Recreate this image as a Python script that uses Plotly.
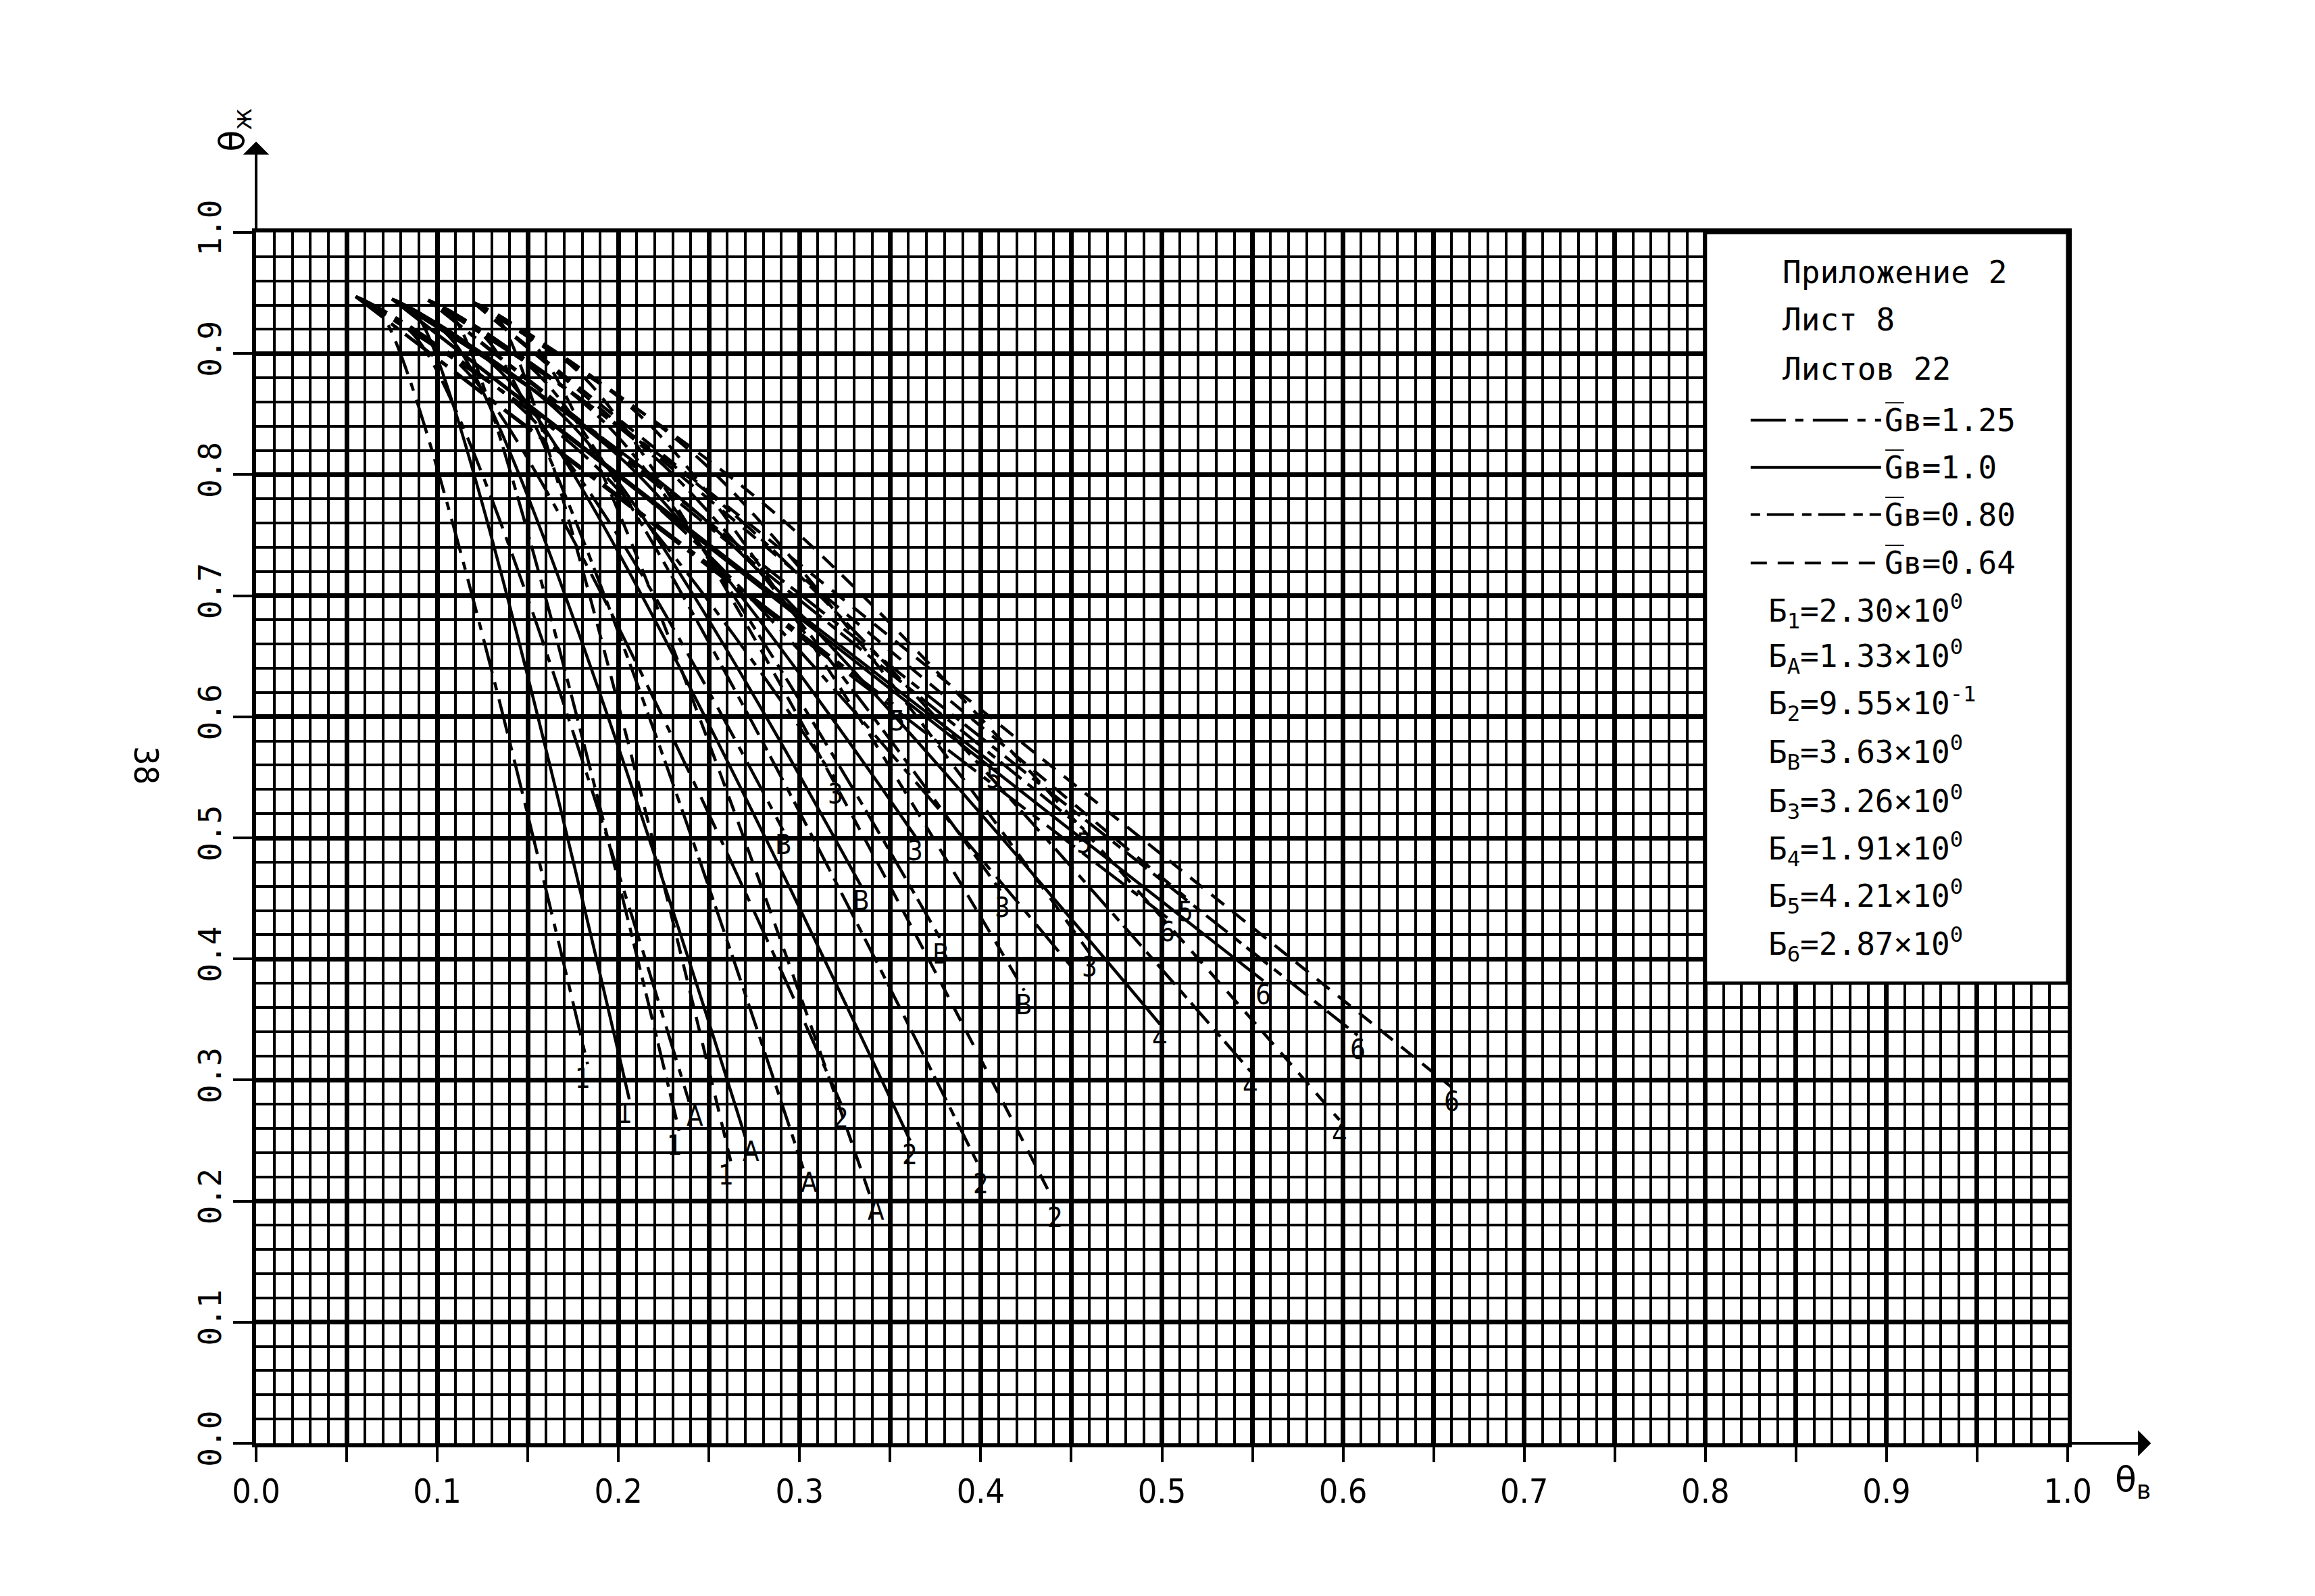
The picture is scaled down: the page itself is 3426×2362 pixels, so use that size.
import plotly.graph_objects as go

# ---------------- data ----------------
families = ["1", "A", "2", "B", "3", "4", "5", "6"]
gb_values = ["1.25", "1.0", "0.80", "0.64"]

# start points of the curves for each Gв
start_x = [0.055, 0.075, 0.095, 0.120]
start_y = [0.947, 0.945, 0.944, 0.942]

# bend points (None -> straight curve)
knee_x = {
    "1": [0.070, 0.090, 0.110, 0.135],
    "A": [0.090, 0.110, 0.130, 0.155],
    "2": [0.120, 0.140, 0.160, 0.185],
    "B": [0.155, 0.175, 0.195, 0.220],
    "3": [0.185, 0.205, 0.225, 0.250],
    "4": [0.225, 0.245, 0.265, 0.290],
    "5": None,
    "6": None,
}
knee_y = {
    "1": [0.931, 0.929, 0.928, 0.926],
    "A": [0.910, 0.908, 0.907, 0.905],
    "2": [0.879, 0.877, 0.876, 0.874],
    "B": [0.842, 0.840, 0.839, 0.837],
    "3": [0.8105, 0.8085, 0.8075, 0.8055],
    "4": [0.7685, 0.7665, 0.7655, 0.7635],
    "5": None,
    "6": None,
}
end_x = {
    "1": [0.183, 0.206, 0.2335, 0.262],
    "A": [0.239, 0.270, 0.302, 0.339],
    "2": [0.323, 0.361, 0.400, 0.441],
    "B": [0.291, 0.334, 0.378, 0.424],
    "3": [0.320, 0.364, 0.412, 0.460],
    "4": [0.452, 0.499, 0.549, 0.598],
    "5": [0.354, 0.407, 0.457, 0.513],
    "6": [0.503, 0.556, 0.608, 0.660],
}
end_y = {
    "1": [0.313, 0.284, 0.258, 0.233],
    "A": [0.282, 0.253, 0.227, 0.204],
    "2": [0.280, 0.250, 0.226, 0.198],
    "B": [0.506, 0.460, 0.416, 0.374],
    "3": [0.548, 0.501, 0.454, 0.405],
    "4": [0.390, 0.346, 0.307, 0.267],
    "5": [0.608, 0.561, 0.507, 0.451],
    "6": [0.434, 0.382, 0.337, 0.294],
}
end_labels = {
    "1": ["1", "1", "1", "1"],
    "A": ["A", "A", "A", "A"],
    "2": ["2", "2", "2", "2"],
    "B": ["B", "B", "B", "B"],
    "3": ["3", "3", "3", "3"],
    "4": [None, "4", "4", "4"],
    "5": ["5", "5", "5", "5"],
    "6": ["6", "6", "6", "6"],
}

b_subs = ["1", "А", "2", "В", "3", "4", "5", "6"]
b_mant = ["2.30", "1.33", "9.55", "3.63", "3.26", "1.91", "4.21", "2.87"]
b_exp = ["0", "0", "-1", "0", "0", "0", "0", "0"]

header_lines = ["Приложение 2", "Лист 8", "Листов 22"]

x_grid_vals = [i / 20 for i in range(21)]
x_tick_text = ["0.0", " ", "0.1", " ", "0.2", " ", "0.3", " ", "0.4", " ", "0.5", " ",
               "0.6", " ", "0.7", " ", "0.8", " ", "0.9", " ", "1.0"]
y_tick_vals = [i / 10 for i in range(11)]
y_tick_text = ["0.0", "0.1", "0.2", "0.3", "0.4", "0.5", "0.6", "0.7", "0.8", "0.9", "1.0"]

# ---------------- styles ----------------
dash_styles = ["52px,14px,12px,14px", "solid", "14px,10px,40px,12px", "24px,16px"]
label_xshift = {"1": -7, "A": 9, "2": 0, "B": 0, "3": 0, "4": 0, "5": 0, "6": 0}
BLACK = "black"
MONO = "DejaVu Sans Mono"

fig = go.Figure()

for fam in families:
    for g in range(4):
        xs = [start_x[g]]
        ys = [start_y[g]]
        if knee_x[fam] is not None:
            xs.append(knee_x[fam][g])
            ys.append(knee_y[fam][g])
        xs.append(end_x[fam][g])
        ys.append(end_y[fam][g])
        fig.add_trace(go.Scatter(
            x=xs, y=ys, mode="lines",
            line=dict(color=BLACK, width=4.5, dash=dash_styles[g],
                      shape="spline", smoothing=0.9),
            hoverinfo="skip", showlegend=False))

# curve end labels as annotations
annotations = []
for fam in families:
    for g in range(4):
        lab = end_labels[fam][g]
        if lab:
            annotations.append(dict(x=end_x[fam][g], y=end_y[fam][g], xref="x", yref="y",
                                    text=lab, showarrow=False, xanchor="center",
                                    yanchor="top", yshift=4, xshift=label_xshift[fam],
                                    font=dict(family="DejaVu Sans Condensed", size=40,
                                              color=BLACK)))

# legend box
shapes = [dict(type="rect", xref="x", yref="y", x0=0.8, x1=1.0, y0=0.38, y1=1.0,
               fillcolor="white", line=dict(color=BLACK, width=5), layer="above")]
legend_rows_y = [0.845, 0.806, 0.767, 0.727]
for g in range(4):
    shapes.append(dict(type="line", xref="x", yref="y", x0=0.825, x1=0.897,
                       y0=legend_rows_y[g], y1=legend_rows_y[g],
                       line=dict(color=BLACK, width=4, dash=dash_styles[g]),
                       layer="above"))

header_y = [0.967, 0.928, 0.8875]
for txt, yy in zip(header_lines, header_y):
    annotations.append(dict(x=0.842, y=yy, xref="x", yref="y", text=txt,
                            showarrow=False, xanchor="left", yanchor="middle",
                            font=dict(family=MONO, size=46, color=BLACK)))
for g in range(4):
    annotations.append(dict(x=0.898, y=legend_rows_y[g], xref="x", yref="y",
                            text="G\u0305в=" + gb_values[g],
                            showarrow=False, xanchor="left", yanchor="middle",
                            font=dict(family=MONO, size=46, color=BLACK)))
b_rows_y = [0.6875, 0.650, 0.611, 0.5705, 0.530, 0.491, 0.452, 0.412]
for i in range(8):
    annotations.append(dict(
        x=0.834, y=b_rows_y[i], xref="x", yref="y",
        text="Б<sub>%s</sub>=%s×10<sup>%s</sup>" % (b_subs[i], b_mant[i], b_exp[i]),
        showarrow=False, xanchor="left", yanchor="middle",
        font=dict(family=MONO, size=46, color=BLACK)))

# axis arrows
annotations.append(dict(x=0, y=1.075, ax=0, ay=1.0, xref="x", yref="y",
                        axref="x", ayref="y", text="", showarrow=True,
                        arrowhead=1, arrowsize=1.6, arrowwidth=4, arrowcolor=BLACK))
annotations.append(dict(x=1.046, y=0, ax=1.0, ay=0, xref="x", yref="y",
                        axref="x", ayref="y", text="", showarrow=True,
                        arrowhead=1, arrowsize=1.6, arrowwidth=4, arrowcolor=BLACK))
# axis titles (paper coordinates = plot area fractions)
annotations.append(dict(x=-0.012, y=1.085, xref="paper", yref="paper", text="θ<sub>ж</sub>",
                        showarrow=False, textangle=-90, xanchor="center", yanchor="middle",
                        font=dict(family="DejaVu Sans", size=52, color=BLACK)))
annotations.append(dict(x=1.036, y=-0.032, xref="paper", yref="paper", text="θ<sub>в</sub>",
                        showarrow=False, xanchor="center", yanchor="middle",
                        font=dict(family="DejaVu Sans", size=52, color=BLACK)))
# page number
annotations.append(dict(x=-0.061, y=0.56, xref="paper", yref="paper", text="38",
                        showarrow=False, textangle=90, xanchor="center", yanchor="middle",
                        font=dict(family="DejaVu Sans Condensed", size=50, color=BLACK)))

fig.update_layout(
    width=3426, height=2362,
    margin=dict(l=371, r=374, t=336, b=234),
    paper_bgcolor="white", plot_bgcolor="white",
    shapes=shapes, annotations=annotations, showlegend=False,
    xaxis=dict(range=[0, 1], tickmode="array", tickvals=x_grid_vals, ticktext=x_tick_text,
               showgrid=True, gridcolor=BLACK, gridwidth=6.5,
               minor=dict(tickmode="linear", tick0=0, dtick=0.01, showgrid=True,
                          gridcolor=BLACK, gridwidth=4),
               showline=True, linecolor=BLACK, linewidth=6, mirror=True,
               ticks="outside", ticklen=22, tickwidth=4, tickcolor=BLACK,
               zeroline=False,
               tickfont=dict(family="DejaVu Sans Condensed", size=50, color=BLACK)),
    yaxis=dict(range=[0, 1], tickmode="array", tickvals=y_tick_vals, ticktext=y_tick_text,
               showgrid=True, gridcolor=BLACK, gridwidth=6.5,
               minor=dict(tickmode="linear", tick0=0, dtick=0.02, showgrid=True,
                          gridcolor=BLACK, gridwidth=4),
               showline=True, linecolor=BLACK, linewidth=6, mirror=True,
               ticks="outside", ticklen=28, tickwidth=4, tickcolor=BLACK,
               zeroline=False, tickangle=-90,
               tickfont=dict(family=MONO, size=46, color=BLACK)),
)

fig.write_html("out.html")
